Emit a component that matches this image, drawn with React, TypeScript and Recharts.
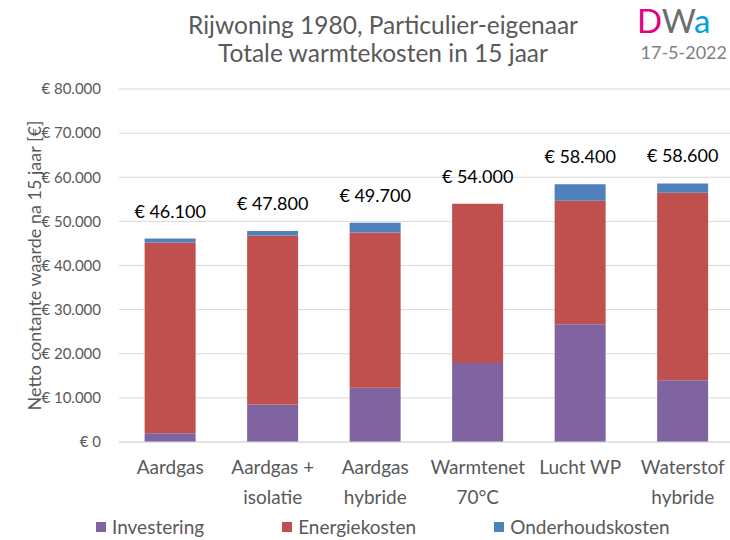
import React from "react";
import { BarChart, Bar, XAxis, YAxis, CartesianGrid, LabelList } from "recharts";

// Categories (x axis)
const categories = [
  "Aardgas",
  "Aardgas +\nisolatie",
  "Aardgas\nhybride",
  "Warmtenet\n70°C",
  "Lucht WP",
  "Waterstof\nhybride",
];

// Series values (euro, netto contante waarde)
const investering = [2000, 8500, 12300, 17900, 26700, 14000];
const energiekosten = [43200, 38300, 35200, 36100, 28000, 42500];
const onderhoudskosten = [900, 1000, 2200, 0, 3700, 2100];
const totals = [46100, 47800, 49700, 54000, 58400, 58600];

const yTicks = [0, 10000, 20000, 30000, 40000, 50000, 60000, 70000, 80000];

const series = [
  { key: "investering", name: "Investering", color: "#8064A2" },
  { key: "energiekosten", name: "Energiekosten", color: "#C0504D" },
  { key: "onderhoudskosten", name: "Onderhoudskosten", color: "#4F81BD" },
];

const data = categories.map((name, i) => ({
  name,
  investering: investering[i],
  energiekosten: energiekosten[i],
  onderhoudskosten: onderhoudskosten[i],
  total: totals[i],
}));

const FONT = "Lato, 'Open Sans', sans-serif";
const GREY = "#595959";

// 46100 -> "€ 46.100"
const euro = (v: number) =>
  v === 0 ? "€ 0" : "€ " + String(v).replace(/\B(?=(\d{3})+(?!\d))/g, ".");

const XTick = (props: any) => {
  const { x, y, payload } = props;
  const lines = String(payload.value).split("\n");
  return (
    <text x={x} y={y} textAnchor="middle" fill={GREY} fontSize={19} fontFamily={FONT}>
      {lines.map((l, i) => (
        <tspan key={i} x={x} dy={i === 0 ? 32 : 30}>
          {l}
        </tspan>
      ))}
    </text>
  );
};

// Total above each stack: the investering bar gives the scale (px per euro)
const TotalLabel = (props: any) => {
  const { x, y, width, height, index } = props;
  const base = y + height;
  const pxPerEuro = height / investering[index];
  const top = base - totals[index] * pxPerEuro;
  return (
    <text
      x={x + width / 2}
      y={top - 21}
      textAnchor="middle"
      fill="#000"
      fontSize={18}
      fontFamily={FONT}
    >
      {euro(totals[index])}
    </text>
  );
};

const App: React.FC = () => {
  return (
    <div
      style={{
        position: "relative",
        width: 730,
        height: 540,
        overflow: "hidden",
        background: "#fff",
        fontFamily: FONT,
      }}
    >
      <style>{"body{margin:0}"}</style>

      {/* Title */}
      <div
        style={{
          position: "absolute",
          left: 0,
          top: 11,
          width: 766,
          textAlign: "center",
          color: GREY,
          fontSize: 24.5,
          lineHeight: "28px",
        }}
      >
        Rijwoning 1980, Particulier-eigenaar
        <br />
        Totale warmtekosten in 15 jaar
      </div>

      {/* Logo + date */}
      <div style={{ position: "absolute", left: 637, top: 0, fontSize: 33, lineHeight: "40px" }}>
        <span style={{ color: "#E5007D" }}>D</span>
        <span style={{ color: "#6D6D6D" }}>W</span>
        <span style={{ color: "#00A0E3" }}>a</span>
      </div>
      <div
        style={{
          position: "absolute",
          right: 3,
          top: 41,
          fontSize: 18,
          lineHeight: "22px",
          color: "#7F7F7F",
        }}
      >
        17-5-2022
      </div>

      <div style={{ position: "absolute", left: 0, top: 0 }}>
        <BarChart
          width={740}
          height={540}
          data={data}
          margin={{ top: 89, right: 6, bottom: 0, left: 0 }}
          barCategoryGap="25%"
        >
          <CartesianGrid vertical={false} stroke="#D9D9D9" />
          <XAxis
            dataKey="name"
            height={98}
            tickLine={false}
            axisLine={{ stroke: "#D9D9D9" }}
            tickSize={0}
            tickMargin={0}
            interval={0}
            tick={<XTick />}
          />
          <YAxis
            width={119}
            domain={[0, 80000]}
            ticks={yTicks}
            tickFormatter={euro}
            axisLine={false}
            tickLine={false}
            tickSize={0}
            tickMargin={18}
            tick={{ fill: GREY, fontSize: 15, fontFamily: FONT }}
            label={{
              value: "Netto contante waarde na 15 jaar [€]",
              angle: -90,
              position: "insideLeft",
              dx: 30,
              dy: 0,
              style: { fill: GREY, fontSize: 18, fontFamily: FONT, textAnchor: "middle" },
            }}
          />
          {series.map((s, i) => (
            <Bar
              key={s.key}
              dataKey={s.key}
              name={s.name}
              stackId="a"
              fill={s.color}
              isAnimationActive={false}
            >
              {i === 0 && <LabelList dataKey="total" content={<TotalLabel />} />}
            </Bar>
          ))}
        </BarChart>
      </div>

      {/* Legend */}
      <div
        style={{
          position: "absolute",
          left: 96,
          top: 515,
          display: "flex",
          gap: 78,
          color: GREY,
          fontSize: 19,
          lineHeight: "24px",
        }}
      >
        {series.map((s) => (
          <div key={s.key} style={{ display: "flex", alignItems: "center", gap: 6 }}>
            <span style={{ width: 10, height: 10, background: s.color, display: "inline-block" }} />
            <span>{s.name}</span>
          </div>
        ))}
      </div>
    </div>
  );
};

export default App;
